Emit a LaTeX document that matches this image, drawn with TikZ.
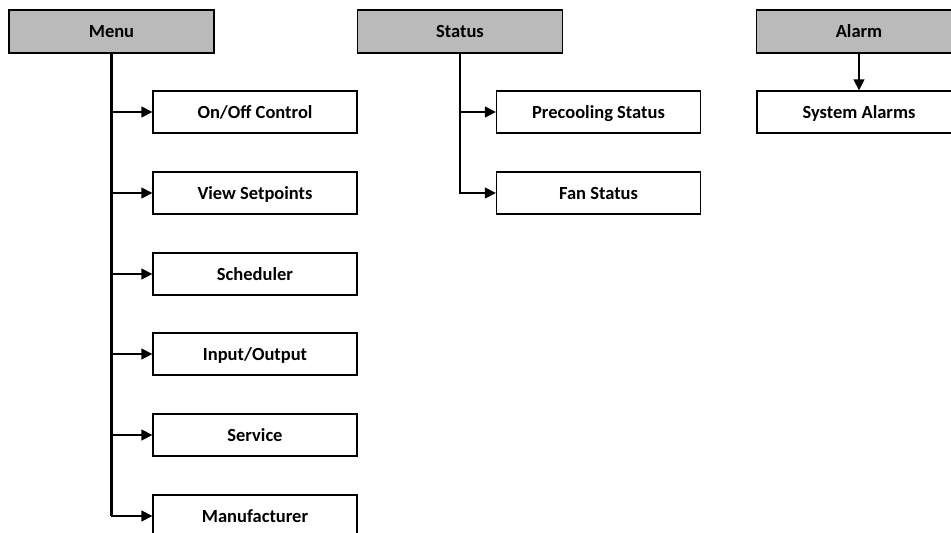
\documentclass[tikz,border=0pt]{standalone}
\usepackage{fontspec}
\setmainfont{Carlito}
\usepackage{xcolor}
\usepackage{tikz}
\usetikzlibrary{arrows.meta}

\begin{document}
\begin{tikzpicture}[x=1pt,y=-1pt]
\tikzstyle{head} = [font=\fontsize{18.5}{22}\selectfont\bfseries,draw,line width=1.3,fill=black!27,minimum width=205,minimum height=43,inner sep=0,text height=14,text depth=2];
\tikzstyle{item} = [font=\fontsize{18.5}{22}\selectfont\bfseries,draw,line width=1.3,fill=white,minimum width=204,minimum height=42,inner sep=0,text height=14,text depth=2];
\tikzstyle{arr} = [line width=1.3,-{Triangle[length=11,width=11]}];
\tikzstyle{trunk} = [line width=2.4];
\useasboundingbox (0,0) rectangle (951,533);
\node [head] (menu) at (111.5,31.5) {Menu};
\node [head] (status) at (460,31.5) {Status};
\node [head] (alarm) at (859,31.5) {Alarm};

\node [item] (onoff) at (255,112) {On/Off Control};
\node [item] (setpts) at (255,193) {View Setpoints};
\node [item] (sched) at (255,274) {Scheduler};
\node [item] (io) at (255,354) {Input/Output};
\node [item] (service) at (255,435) {Service};
\node [item] (manuf) at (255,516) {Manufacturer};

\node [item] (precool) at (598.5,112) {Precooling Status};
\node [item] (fan) at (598.5,193) {Fan Status};

\node [item] (sysalarm) at (859,112) {System Alarms};

\draw [trunk] (menu.south) -- (menu.south |- manuf.west);
\draw [arr] (menu.south) |- (onoff.west);
\draw [arr] (menu.south) |- (setpts.west);
\draw [arr] (menu.south) |- (sched.west);
\draw [arr] (menu.south) |- (io.west);
\draw [arr] (menu.south) |- (service.west);
\draw [arr] (menu.south) |- (manuf.west);

\draw [arr] (status.south) |- (precool.west);
\draw [arr] (status.south) |- (fan.west);

\draw [arr] (alarm) -- (sysalarm);
\end{tikzpicture}
\end{document}
